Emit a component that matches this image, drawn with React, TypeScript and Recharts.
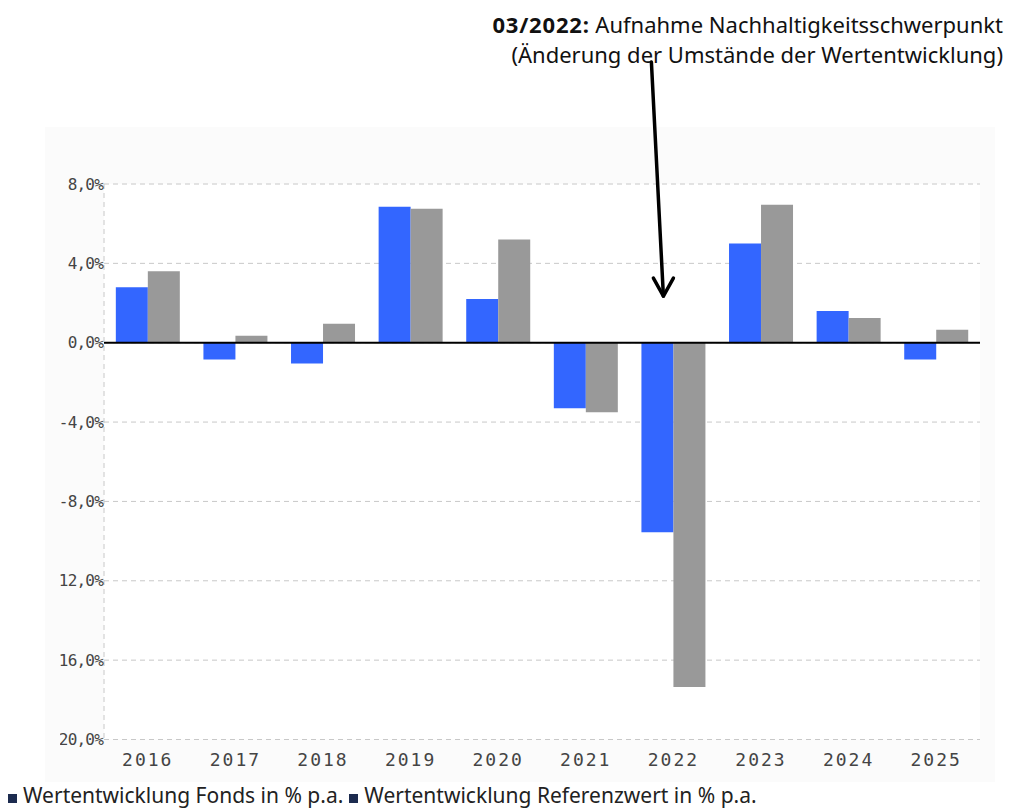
import { Bar, BarChart, CartesianGrid, ReferenceDot, ReferenceLine, XAxis, YAxis } from "recharts";

const years = ["2016", "2017", "2018", "2019", "2020", "2021", "2022", "2023", "2024", "2025"];
const fonds = [2.8, -0.85, -1.05, 6.85, 2.2, -3.3, -9.55, 5.0, 1.6, -0.85];
const referenz = [3.6, 0.35, 0.95, 6.75, 5.2, -3.5, -17.35, 6.95, 1.25, 0.65];
const yTicks = [8, 4, 0, -4, -8, -12, -16, -20];
const seriesNames = ["Wertentwicklung Fonds in % p.a.", "Wertentwicklung Referenzwert in % p.a."];

const data = years.map((year, i) => ({ year, fonds: fonds[i], referenz: referenz[i] }));

const pct = (v: number) => `${v.toFixed(1).replace(".", ",")}%`;
const textFont = "'Noto Sans', 'Open Sans', sans-serif";
const tickFont = "'DejaVu Sans Mono', monospace";

// open-headed arrow pointing at the 2022 group, drawn relative to the dot
function Arrow({ cx, cy }: { cx?: number; cy?: number }) {
  if (cx == null || cy == null) return null;
  const tx = cx - 10;
  return (
    <g stroke="#000" strokeWidth={3.5} fill="none" strokeLinecap="round" strokeLinejoin="round">
      <line x1={tx - 12} y1={cy - 234} x2={tx} y2={cy} />
      <polyline points={`${tx - 10},${cy - 18} ${tx},${cy} ${tx + 10},${cy - 18}`} />
    </g>
  );
}

export default function App() {
  return (
    <div style={{ position: "absolute", left: 0, top: 0, width: 1015, height: 810, background: "#fff", overflow: "hidden" }}>
      <div style={{ position: "absolute", left: 45, top: 127, width: 950, height: 655, background: "#fbfbfb" }} />
      <div
        style={{
          position: "absolute",
          right: 12,
          top: 9,
          textAlign: "right",
          fontFamily: textFont,
          fontSize: 22,
          lineHeight: "30px",
          color: "#111",
          whiteSpace: "nowrap",
        }}
      >
        <div>
          <b style={{ letterSpacing: 0.8 }}>03/2022:</b> Aufnahme Nachhaltigkeitsschwerpunkt
        </div>
        <div>(Änderung der Umstände der Wertentwicklung)</div>
      </div>
      <div style={{ position: "absolute", left: 60, top: 0 }}>
        <BarChart
          width={955}
          height={790}
          data={data}
          margin={{ top: 184, right: 35, bottom: 0, left: 0 }}
          barCategoryGap="13.5%"
          barGap={0}
        >
          <CartesianGrid vertical={false} stroke="#c8c8c8" strokeDasharray="5 4" fill="#fff" />
          <XAxis
            dataKey="year"
            height={50.5}
            axisLine={false}
            tickLine={false}
            tickSize={0}
            tickMargin={14}
            tick={{ fill: "#444", fontSize: 18, fontFamily: tickFont, letterSpacing: 2 }}
            interval={0}
          />
          <YAxis
            width={44}
            domain={[-20, 8]}
            ticks={yTicks}
            tickFormatter={pct}
            axisLine={{ stroke: "#c8c8c8", strokeDasharray: "5 4" }}
            tickLine={false}
            tickSize={0}
            tickMargin={1}
            tick={{ fill: "#444", fontSize: 16, fontFamily: tickFont, letterSpacing: -0.8 }}
            interval={0}
          />
          <Bar dataKey="fonds" fill="#3366ff" isAnimationActive={false} />
          <Bar dataKey="referenz" fill="#999999" isAnimationActive={false} />
          <ReferenceLine y={0} stroke="#000" strokeWidth={2} />
          <ReferenceDot x="2022" y={2.35} shape={<Arrow />} />
        </BarChart>
      </div>
      <div
        style={{
          position: "absolute",
          left: 8,
          top: 784,
          fontFamily: textFont,
          fontSize: 21,
          lineHeight: "22px",
          color: "#222",
          whiteSpace: "nowrap",
        }}
      >
        {seriesNames.map((name) => (
          <span key={name} style={{ marginRight: 6 }}>
            <span style={{ display: "inline-block", width: 9, height: 9, background: "#1c2b4f", marginRight: 6 }} />
            {name}
          </span>
        ))}
      </div>
    </div>
  );
}
